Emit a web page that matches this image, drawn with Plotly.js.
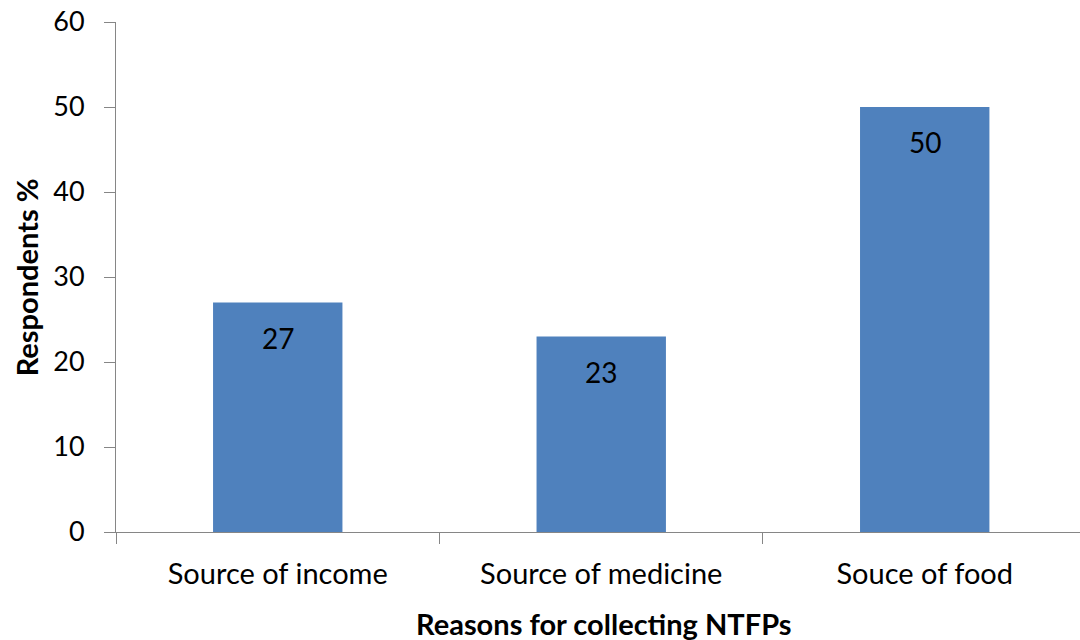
<!DOCTYPE html>
<html>
<head>
<meta charset="utf-8">
<script src="https://cdn.plot.ly/plotly-3.0.1.min.js"></script>
<style>
  html, body { margin: 0; padding: 0; background: #fff; }
  #chart { width: 1080px; height: 640px; }
</style>
</head>
<body>
<div id="chart"></div>
<script>
// Reasons given by respondents for collecting NTFPs
const reasons = ["Source of income", "Source of medicine", "Souce of food"];
const respondentsPct = [27, 23, 50];
const yTicks = [0, 10, 20, 30, 40, 50, 60];

const FONT = "Lato, 'Open Sans', sans-serif";
const AXIS_GREY = "#868686";

const barTrace = {
  type: "bar",
  x: reasons,
  y: respondentsPct,
  width: 0.4,
  marker: { color: "#4f81bd", line: { width: 0 } },
  hoverinfo: "x+y",
  showlegend: false
};

// Value labels sit just inside the top of each bar
const valueLabels = reasons.map((r, i) => ({
  x: r,
  y: respondentsPct[i],
  xref: "x",
  yref: "y",
  text: String(respondentsPct[i]),
  showarrow: false,
  yshift: -35,
  font: { family: FONT, size: 28, color: "#000" }
}));

const layout = {
  width: 1080,
  height: 640,
  margin: { l: 116, r: 0, t: 22, b: 108, pad: 0 },
  paper_bgcolor: "#fff",
  plot_bgcolor: "#fff",
  font: { family: FONT, color: "#000" },
  bargap: 0.6,
  xaxis: {
    type: "category",
    range: [-0.5, 2.48],
    showline: true,
    linecolor: AXIS_GREY,
    linewidth: 1,
    ticks: "outside",
    tickson: "boundaries",
    ticklen: 11,
    tickcolor: AXIS_GREY,
    tickwidth: 1,
    ticklabelstandoff: 16,
    showgrid: false,
    zeroline: false,
    tickfont: { family: FONT, size: 29, color: "#000" },
    fixedrange: true
  },
  yaxis: {
    range: [0, 60],
    tickvals: yTicks,
    ticktext: yTicks.map(String),
    showline: true,
    linecolor: AXIS_GREY,
    linewidth: 1,
    ticks: "outside",
    ticklen: 11,
    tickcolor: AXIS_GREY,
    tickwidth: 1,
    ticklabelstandoff: 14,
    showgrid: false,
    zeroline: false,
    tickfont: { family: FONT, size: 27, color: "#000" },
    fixedrange: true
  },
  annotations: valueLabels.concat([
    {
      text: "<b>Reasons for collecting NTFPs</b>",
      xref: "paper", yref: "paper",
      x: 0.506, y: -0.18,
      xanchor: "center", yanchor: "middle",
      showarrow: false,
      font: { family: FONT, size: 29, color: "#000" }
    },
    {
      text: "<b>Respondents %</b>",
      xref: "paper", yref: "paper",
      x: -0.093, y: 0.5,
      xanchor: "center", yanchor: "middle",
      textangle: -90,
      showarrow: false,
      font: { family: FONT, size: 29, color: "#000" }
    }
  ])
};

Plotly.newPlot("chart", [barTrace], layout, { displayModeBar: false, staticPlot: true });
</script>
</body>
</html>
